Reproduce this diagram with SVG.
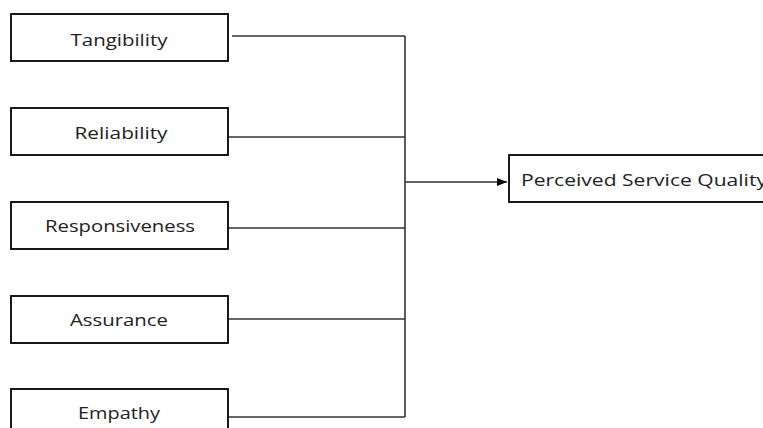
<svg xmlns="http://www.w3.org/2000/svg" width="763" height="428" viewBox="0 0 763 428">
<style>
.box{fill:#fff;stroke:#000;stroke-width:1.8}
.lbl{font-family:"Open Sans","Liberation Sans",sans-serif;font-size:16.5px;fill:#222;text-anchor:middle}
.out{font-family:"Open Sans","Liberation Sans",sans-serif;font-size:16.5px;fill:#222}
.con{fill:none;stroke:#333;stroke-width:1.6}
</style>
<defs>
<marker id="arr" markerWidth="10" markerHeight="8" refX="10" refY="4" orient="auto" markerUnits="userSpaceOnUse">
<path d="M0,0 L10,4 L0,8 z" fill="#000"/>
</marker>
</defs>
<rect width="763" height="428" fill="#fff"/>
<g id="tangibility"><rect class="box" x="11" y="14" width="217" height="47"/><text class="lbl" x="119" y="46" textLength="97" lengthAdjust="spacingAndGlyphs">Tangibility</text></g>
<g id="reliability"><rect class="box" x="11" y="108" width="217" height="47"/><text class="lbl" x="121" y="139" textLength="93" lengthAdjust="spacingAndGlyphs">Reliability</text></g>
<g id="responsiveness"><rect class="box" x="11" y="202" width="217" height="47"/><text class="lbl" x="120" y="232" textLength="150" lengthAdjust="spacingAndGlyphs">Responsiveness</text></g>
<g id="assurance"><rect class="box" x="11" y="296" width="217" height="47"/><text class="lbl" x="119" y="326" textLength="98" lengthAdjust="spacingAndGlyphs">Assurance</text></g>
<g id="empathy"><rect class="box" x="11" y="389" width="217" height="47"/><text class="lbl" x="119" y="419" textLength="82" lengthAdjust="spacingAndGlyphs">Empathy</text></g>
<g id="quality"><rect class="box" x="509" y="155" width="270" height="47"/><text class="out" x="521" y="186" textLength="246" lengthAdjust="spacingAndGlyphs">Perceived Service Quality</text></g>
<g id="connectors">
<path class="con" d="M232,36 H405 M229,137 H405 M229,228 H405 M229,319 H405 M229,417 H405 M405,36 V417"/>
<path class="con" d="M405,182 H507" marker-end="url(#arr)"/>
</g>
</svg>
